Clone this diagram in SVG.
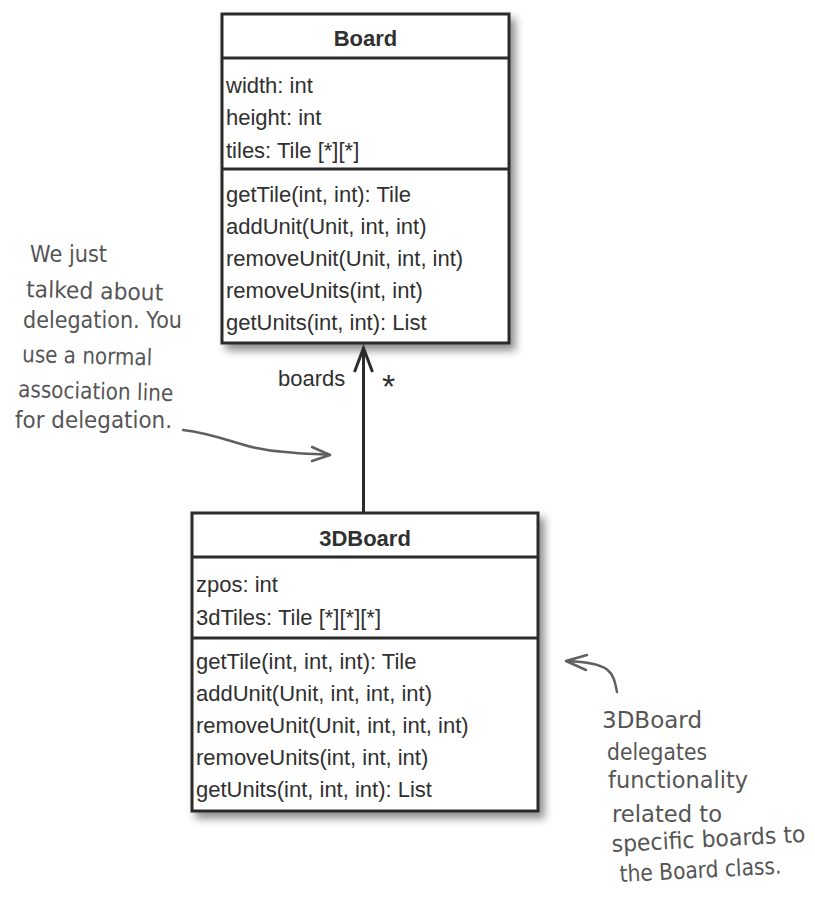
<svg xmlns="http://www.w3.org/2000/svg" width="815" height="904" viewBox="0 0 815 904">
<style>
.box{fill:#fff;stroke:#2b2b2b;stroke-width:3}
.div{stroke:#2b2b2b;stroke-width:3}
.t{font-family:"Liberation Sans",Arial,sans-serif;font-size:22px;fill:#303030}
.title{font-family:"Liberation Sans",Arial,sans-serif;font-size:22px;font-weight:bold;fill:#303030;text-anchor:middle}
.hand{font-family:"DejaVu Sans",sans-serif;font-size:23px;fill:#555}
.conn{stroke:#2b2b2b;stroke-width:3;fill:none}
.harrow{stroke:#606060;stroke-width:2.5;fill:none;stroke-linecap:round;stroke-linejoin:round}
</style>
<defs>
<filter id="sh" x="-10%" y="-10%" width="130%" height="130%">
<feDropShadow dx="5" dy="6" stdDeviation="4" flood-color="#000" flood-opacity="0.45"/>
</filter>
</defs>
<rect width="815" height="904" fill="#fff"/>
<g id="Board">
<rect class="box" x="222" y="14" width="287" height="329" filter="url(#sh)"/>
<line class="div" x1="222" y1="58" x2="509" y2="58"/>
<line class="div" x1="222" y1="169" x2="509" y2="169"/>
<text class="title" x="365.5" y="46">Board</text>
<text class="t" x="226" y="93">width: int</text>
<text class="t" x="226" y="125">height: int</text>
<text class="t" x="226" y="158">tiles: Tile [*][*]</text>
<text class="t" x="226" y="202">getTile(int, int): Tile</text>
<text class="t" x="226" y="234">addUnit(Unit, int, int)</text>
<text class="t" x="226" y="266">removeUnit(Unit, int, int)</text>
<text class="t" x="226" y="298">removeUnits(int, int)</text>
<text class="t" x="226" y="330">getUnits(int, int): List</text>
</g>
<g id="Board3D">
<rect class="box" x="192" y="513" width="346" height="298" filter="url(#sh)"/>
<line class="div" x1="192" y1="557" x2="538" y2="557"/>
<line class="div" x1="192" y1="638" x2="538" y2="638"/>
<text class="title" x="365" y="546">3DBoard</text>
<text class="t" x="196" y="592">zpos: int</text>
<text class="t" x="196" y="625">3dTiles: Tile [*][*][*]</text>
<text class="t" x="196" y="669">getTile(int, int, int): Tile</text>
<text class="t" x="196" y="701">addUnit(Unit, int, int, int)</text>
<text class="t" x="196" y="733">removeUnit(Unit, int, int, int)</text>
<text class="t" x="196" y="765">removeUnits(int, int, int)</text>
<text class="t" x="196" y="797">getUnits(int, int, int): List</text>
</g>
<g id="connectors">
<line class="conn" x1="363.5" y1="513" x2="363.5" y2="348"/>
<polyline class="conn" points="354.5,372 363.5,348 372.5,372"/>
<text class="t" x="278" y="386">boards</text>
<text class="t" x="382" y="398" style="font-size:34px">*</text>
</g>
<g id="note-left">
<text class="hand" x="30" y="262" textLength="77" lengthAdjust="spacingAndGlyphs">We just</text>
<text class="hand" x="26" y="297" textLength="137" lengthAdjust="spacingAndGlyphs" transform="rotate(1.5 26 297)">talked about</text>
<text class="hand" x="23" y="328" textLength="159" lengthAdjust="spacingAndGlyphs">delegation. You</text>
<text class="hand" x="22" y="362" textLength="130" lengthAdjust="spacingAndGlyphs" transform="rotate(1.5 22 362)">use a normal</text>
<text class="hand" x="18" y="397" textLength="155" lengthAdjust="spacingAndGlyphs" transform="rotate(1.5 18 397)">association line</text>
<text class="hand" x="15" y="428" textLength="157" lengthAdjust="spacingAndGlyphs">for delegation.</text>
<path class="harrow" d="M183,430 C225,435 245,450 285,452 C305,454 318,454 330,455"/>
<polyline class="harrow" points="312,447 330,455 312,461"/>
</g>
<g id="note-right">
<path class="harrow" d="M617,692 C613,672 612,663 567,661"/>
<polyline class="harrow" points="587,655 566,661 586,670"/>
<text class="hand" x="602" y="728" textLength="100" lengthAdjust="spacingAndGlyphs">3DBoard</text>
<text class="hand" x="607" y="760" textLength="100" lengthAdjust="spacingAndGlyphs">delegates</text>
<text class="hand" x="608" y="788" textLength="140" lengthAdjust="spacingAndGlyphs">functionality</text>
<text class="hand" x="612" y="822" textLength="110" lengthAdjust="spacingAndGlyphs">related to</text>
<text class="hand" x="612" y="852" textLength="194" lengthAdjust="spacingAndGlyphs" transform="rotate(-3 612 852)">specific boards to</text>
<text class="hand" x="620" y="882" textLength="162" lengthAdjust="spacingAndGlyphs" transform="rotate(-3 620 882)">the Board class.</text>
</g>
</svg>
